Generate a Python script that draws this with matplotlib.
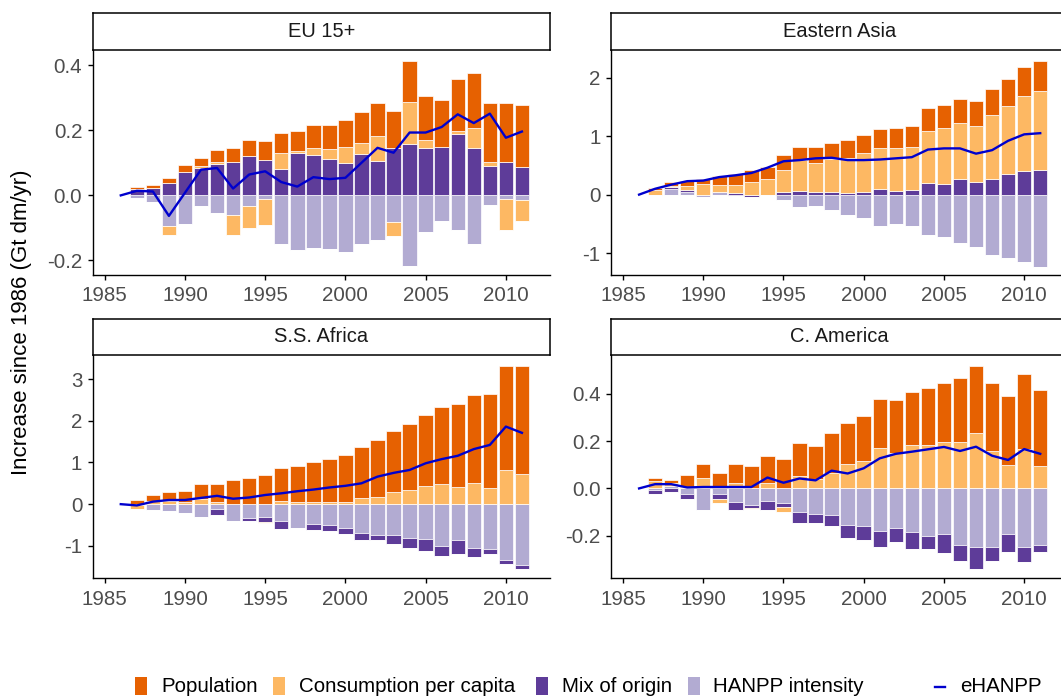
import numpy as np
import matplotlib
matplotlib.use('Agg')
import matplotlib.pyplot as plt
from matplotlib.patches import Rectangle
from matplotlib.lines import Line2D

plt.rcParams['font.family'] = ['Liberation Sans', 'DejaVu Sans']
plt.rcParams['axes.unicode_minus'] = False

years = list(range(1986, 2012))

# EU 15+
eu_pop = [0, 0.006, 0.01, 0.016, 0.022, 0.027, 0.036, 0.042, 0.049, 0.057, 0.06, 0.062, 0.07,
          0.074, 0.082, 0.093, 0.103, 0.112, 0.124, 0.137, 0.146, 0.159, 0.171, 0.181, 0.183, 0.191]
eu_cons = [0, 0, 0, -0.026, 0, 0.005, 0.007, -0.062, -0.067, -0.079, 0.049, 0.005, 0.024,
           0.029, 0.049, 0.036, 0.075, -0.043, 0.131, 0.023, 0, 0.008, 0.06, 0.012, -0.094, -0.063]
eu_mix = [0, 0.02, 0.023, 0.038, 0.071, 0.084, 0.095, 0.102, 0.12, 0.11, 0.082, 0.131, 0.123,
          0.113, 0.1, 0.126, 0.107, 0.146, 0.157, 0.146, 0.148, 0.19, 0.146, 0.09, 0.102, 0.088]
eu_hanpp = [0, -0.008, -0.021, -0.095, -0.089, -0.034, -0.053, -0.06, -0.034, -0.011, -0.15,
            -0.169, -0.161, -0.165, -0.174, -0.15, -0.137, -0.083, -0.217, -0.111, -0.08, -0.105,
            -0.15, -0.029, -0.012, -0.015]
eu_ehanpp = [0, 0.014, 0.012, -0.063, 0.008, 0.079, 0.084, 0.021, 0.064, 0.074, 0.041, 0.027,
             0.056, 0.05, 0.054, 0.1, 0.146, 0.131, 0.193, 0.193, 0.21, 0.249, 0.222, 0.251,
             0.177, 0.196]

# Eastern Asia
ea_pop = [0, 0.03, 0.06, 0.086, 0.09, 0.14, 0.18, 0.2, 0.21, 0.25, 0.21, 0.27, 0.26, 0.31, 0.32,
          0.32, 0.34, 0.36, 0.39, 0.4, 0.41, 0.42, 0.44, 0.46, 0.49, 0.51]
ea_cons = [0, 0.086, 0.02, 0.057, 0.18, 0.13, 0.14, 0.22, 0.26, 0.38, 0.54, 0.5, 0.57, 0.6, 0.66,
           0.7, 0.74, 0.73, 0.89, 0.95, 0.95, 0.97, 1.09, 1.16, 1.29, 1.35]
ea_mix = [0, 0, 0.03, 0.046, 0, 0, 0.03, -0.035, 0, 0.046, 0.057, 0.046, 0.046, 0.03, 0.046,
          0.1, 0.057, 0.086, 0.2, 0.18, 0.27, 0.21, 0.27, 0.36, 0.4, 0.42]
ea_hanpp = [0, -0.01, 0.1, 0.04, -0.034, 0.04, -0.02, 0, 0, -0.086, -0.22, -0.19, -0.26, -0.34,
            -0.4, -0.53, -0.5, -0.53, -0.69, -0.73, -0.83, -0.89, -1.04, -1.08, -1.15, -1.23]
ea_ehanpp = [0, 0.1, 0.17, 0.23, 0.24, 0.3, 0.33, 0.37, 0.46, 0.57, 0.59, 0.62, 0.63, 0.59, 0.59,
             0.6, 0.62, 0.64, 0.77, 0.79, 0.79, 0.7, 0.76, 0.92, 1.03, 1.05]

# S.S. Africa
ssa_pop = [0, 0.1, 0.14, 0.21, 0.26, 0.37, 0.43, 0.57, 0.62, 0.71, 0.78, 0.86, 0.96, 1.05, 1.15,
           1.23, 1.35, 1.47, 1.58, 1.71, 1.85, 1.97, 2.1, 2.26, 2.5, 2.58]
ssa_cons = [0, -0.1, 0.07, 0.08, 0.06, 0.12, 0.06, 0, 0, -0.04, 0.08, 0.06, 0.04, 0.04, 0.04,
            0.14, 0.18, 0.28, 0.33, 0.43, 0.49, 0.42, 0.51, 0.39, 0.81, 0.73]
ssa_mix = [0, 0, 0, 0, 0, 0, -0.13, 0, -0.08, -0.11, -0.18, 0, -0.13, -0.16, -0.15, -0.17,
           -0.13, -0.22, -0.23, -0.29, -0.24, -0.34, -0.23, -0.13, -0.08, -0.1]
ssa_hanpp = [0, -0.02, -0.14, -0.16, -0.21, -0.3, -0.12, -0.4, -0.32, -0.31, -0.41, -0.58,
             -0.48, -0.49, -0.56, -0.7, -0.74, -0.74, -0.82, -0.84, -1.0, -0.86, -1.04, -1.07,
             -1.35, -1.46]
ssa_ehanpp = [0, -0.03, 0.06, 0.1, 0.1, 0.15, 0.2, 0.13, 0.16, 0.22, 0.26, 0.31, 0.35, 0.4, 0.44,
              0.5, 0.66, 0.75, 0.82, 0.98, 1.08, 1.16, 1.32, 1.42, 1.86, 1.71]

# C. America
ca_pop = [0, 0.01, 0.013, 0.048, 0.056, 0.066, 0.08, 0.094, 0.117, 0.123, 0.141, 0.142, 0.169,
          0.172, 0.19, 0.204, 0.222, 0.225, 0.239, 0.252, 0.27, 0.282, 0.285, 0.293, 0.317, 0.32]
ca_cons = [0, 0.032, 0.014, 0.007, 0.045, -0.018, 0.021, -0.004, 0.021, -0.021, 0.052, 0.038,
           0.063, 0.103, 0.115, 0.172, 0.151, 0.183, 0.183, 0.194, 0.194, 0.235, 0.159, 0.099,
           0.165, 0.094]
ca_mix = [0, -0.017, -0.014, -0.021, 0, -0.02, -0.035, -0.014, -0.039, -0.017, -0.046, -0.037,
          -0.045, -0.056, -0.061, -0.066, -0.061, -0.068, -0.055, -0.077, -0.069, -0.093,
          -0.061, -0.073, -0.063, -0.028]
ca_hanpp = [0, -0.007, 0.01, -0.025, -0.092, -0.025, -0.056, -0.07, -0.052, -0.06, -0.099,
            -0.108, -0.113, -0.155, -0.158, -0.18, -0.165, -0.186, -0.201, -0.194, -0.237,
            -0.249, -0.246, -0.194, -0.246, -0.239]
ca_ehanpp = [0, 0.018, 0.018, 0.004, 0.006, 0.006, 0.006, 0.006, 0.046, 0.024, 0.042, 0.034,
             0.075, 0.063, 0.085, 0.127, 0.146, 0.155, 0.165, 0.175, 0.158, 0.176, 0.138, 0.12,
             0.166, 0.146]

factor_names = ['Population', 'Consumption per capita', 'Mix of origin', 'HANPP intensity']
colors = {'Population': '#e66101', 'Consumption per capita': '#fdb863',
          'Mix of origin': '#5e3c99', 'HANPP intensity': '#b2abd2'}
line_color = '#0000cd'

panels = [
    ('EU 15+', eu_pop, eu_cons, eu_mix, eu_hanpp, eu_ehanpp,
     (-0.243, 0.448), [-0.2, 0.0, 0.2, 0.4], ['-0.2', '0.0', '0.2', '0.4']),
    ('Eastern Asia', ea_pop, ea_cons, ea_mix, ea_hanpp, ea_ehanpp,
     (-1.365, 2.48), [-1, 0, 1, 2], ['-1', '0', '1', '2']),
    ('S.S. Africa', ssa_pop, ssa_cons, ssa_mix, ssa_hanpp, ssa_ehanpp,
     (-1.77, 3.576), [-1, 0, 1, 2, 3], ['-1', '0', '1', '2', '3']),
    ('C. America', ca_pop, ca_cons, ca_mix, ca_hanpp, ca_ehanpp,
     (-0.378, 0.563), [-0.2, 0.0, 0.2, 0.4], ['-0.2', '0.0', '0.2', '0.4']),
]

W, H = 1061, 699
fig = plt.figure(figsize=(W / 100, H / 100), dpi=100)


def fx(px):
    return px / W


def fy(py):
    return 1 - py / H


col_x = [92.7, 611.0]
panel_w = 457.3
# (strip top, axes top, axes bottom) in pixels
row_y = [(13.0, 49.5, 274.5), (319.0, 355.0, 578.0)]

for i, (title, pop, cons, mix, hanpp, ehanpp, ylim, yt, ytl) in enumerate(panels):
    x0 = col_x[i % 2]
    s_top, a_top, a_bot = row_y[i // 2]

    ax = fig.add_axes([fx(x0), fy(a_bot), panel_w / W, (a_bot - a_top) / H])
    pos_b = np.zeros(len(years))
    neg_b = np.zeros(len(years))
    # ggplot stacks the last factor level next to zero
    for name, vals in [('HANPP intensity', hanpp), ('Mix of origin', mix),
                       ('Consumption per capita', cons), ('Population', pop)]:
        v = np.array(vals, dtype=float)
        p = np.where(v > 0, v, 0)
        n = np.where(v < 0, v, 0)
        ax.bar(years, p, bottom=pos_b, width=0.9, color=colors[name],
               edgecolor='white', linewidth=0.5)
        ax.bar(years, n, bottom=neg_b, width=0.9, color=colors[name],
               edgecolor='white', linewidth=0.5)
        pos_b += p
        neg_b += n
    ax.plot(years, ehanpp, color=line_color, lw=1.7, zorder=5)

    ax.set_xlim(1984.25, 2012.75)
    ax.set_ylim(*ylim)
    ax.set_xticks([1985, 1990, 1995, 2000, 2005, 2010])
    ax.set_yticks(yt)
    ax.set_yticklabels(ytl)
    for s in ['top', 'right']:
        ax.spines[s].set_visible(False)
    for s in ['left', 'bottom']:
        ax.spines[s].set_linewidth(1.0)
    ax.tick_params(axis='both', length=3.5, width=1.0, color='black',
                   labelcolor='#4d4d4d', labelsize=14.8)
    ax.tick_params(axis='x', pad=5.0)
    ax.tick_params(axis='y', pad=4)

    sax = fig.add_axes([fx(x0), fy(a_top), panel_w / W, (a_top - s_top) / H])
    sax.set_xticks([])
    sax.set_yticks([])
    for s in sax.spines.values():
        s.set_linewidth(1.1)
    sax.text(0.5, 0.5, title, ha='center', va='center', fontsize=14.5,
             color='#1a1a1a', transform=sax.transAxes)

fig.text(fx(22), fy(322), 'Increase since 1986 (Gt dm/yr)', rotation=90,
         ha='center', va='center', fontsize=16, color='black')

# legend along the bottom
leg_y = 687
patch_x = [135, 272.7, 536, 688]
text_x = [161.7, 299, 561.7, 713]
for name, px, tx in zip(factor_names, patch_x, text_x):
    fig.patches.append(Rectangle((fx(px), fy(695)), 12 / W, 18 / H,
                                 facecolor=colors[name], edgecolor='none',
                                 transform=fig.transFigure))
    fig.text(fx(tx), fy(leg_y), name, ha='left', va='center', fontsize=14.8, color='black')
fig.lines.append(Line2D([fx(935), fx(945)], [fy(leg_y), fy(leg_y)], color=line_color,
                        lw=1.7, transform=fig.transFigure))
fig.text(fx(960), fy(leg_y), 'eHANPP', ha='left', va='center', fontsize=14.8, color='black')

fig.savefig('out.png', dpi=100)
